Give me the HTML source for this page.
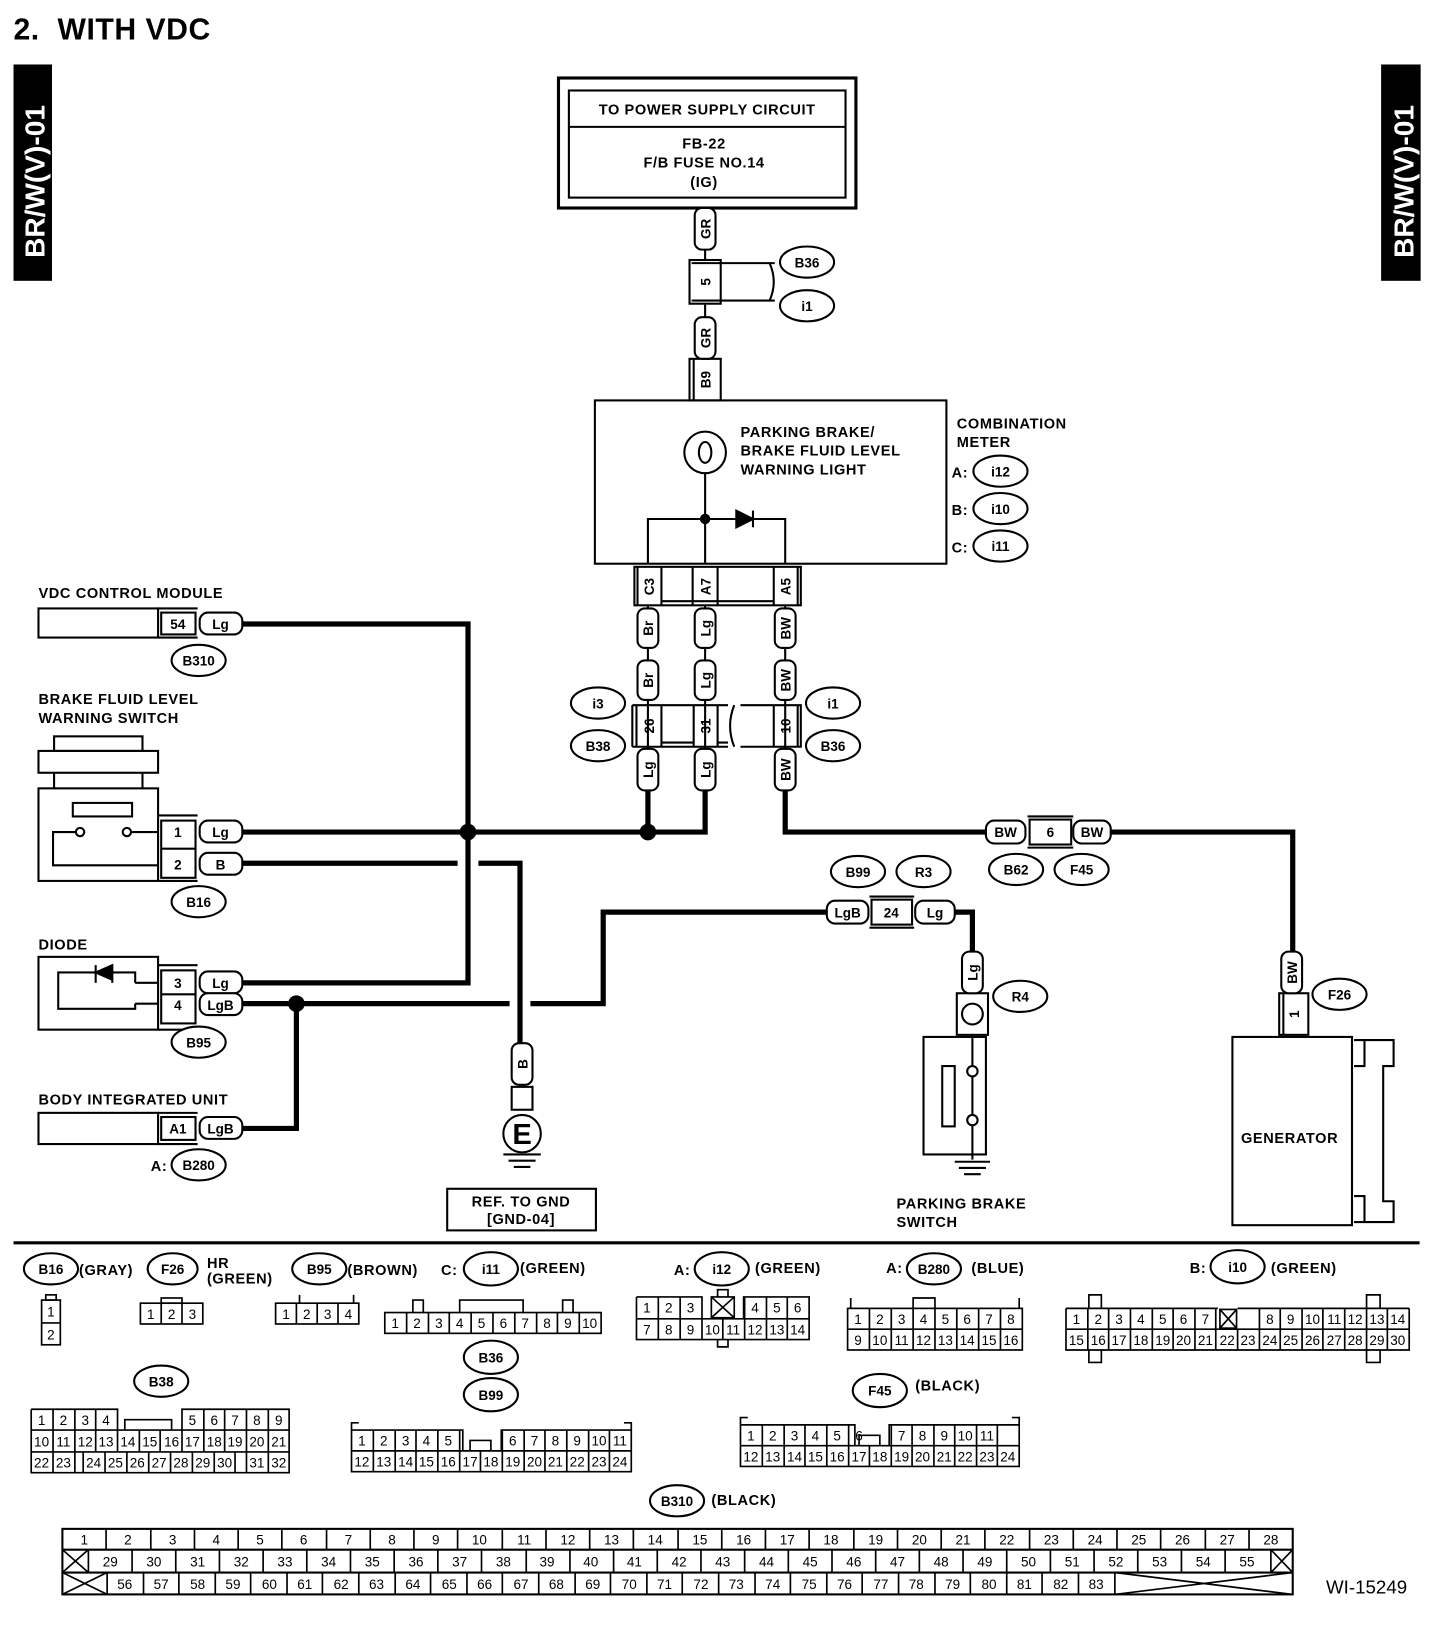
<!DOCTYPE html>
<html><head><meta charset="utf-8"><style>
html,body{margin:0;padding:0;background:#fff;}
svg{display:block;}
text{font-family:"Liberation Sans",sans-serif;fill:#000;}
.b{font-weight:bold;font-size:14px;letter-spacing:0.6px;}
.s{font-weight:bold;font-size:13px;}
.n{font-size:13px;}
</style></head><body>
<svg width="1456" height="1636" viewBox="0 0 1400 1573" preserveAspectRatio="none" xmlns="http://www.w3.org/2000/svg">
<rect width="1400" height="1573" fill="#fff"/>
<text x="13" y="38" style="font-weight:bold;font-size:29px;letter-spacing:0.5px" xml:space="preserve">2.  WITH VDC</text>
<rect x="13" y="62" width="37" height="208" fill="#000"/>
<text transform="translate(43,248) rotate(-90)" style="font-weight:bold;font-size:27px;fill:#fff">BR/W(V)-01</text>
<rect x="1328" y="62" width="38" height="208" fill="#000"/>
<text transform="translate(1359,248) rotate(-90)" style="font-weight:bold;font-size:27px;fill:#fff">BR/W(V)-01</text>

<g fill="none" stroke="#000" stroke-width="2">
<rect x="537" y="75" width="286" height="125" stroke-width="3"/>
<rect x="547" y="87" width="266" height="103"/>
<line x1="547" y1="122" x2="813" y2="122"/>
<line x1="678" y1="200" x2="678" y2="345"/>
<rect x="663" y="250" width="30" height="42" fill="#fff"/>
<path d="M665 253 H745 M665 289 H745 M740 253 q8 18 0 36"/>
<rect x="663" y="345" width="30" height="40" fill="#fff"/>
<line x1="667" y1="345" x2="667" y2="385"/>
<rect x="572" y="385" width="338" height="157"/>
<circle cx="678" cy="435" r="20"/>
<ellipse cx="678" cy="435" rx="6" ry="10"/>
<path d="M678 455 V499 M623 542 V499 H755 V542 M678 499 V542"/>
<path d="M708 491 V507 L724 499 Z M724 491 V507" fill="#000"/>
<rect x="610" y="545" width="160" height="37"/>
<line x1="613" y1="545" x2="613" y2="582"/>
<line x1="636" y1="545" x2="636" y2="582"/>
<line x1="666" y1="545" x2="666" y2="582"/><line x1="690" y1="545" x2="690" y2="582"/>
<line x1="744" y1="545" x2="744" y2="582"/><line x1="767" y1="545" x2="767" y2="582"/>
<line x1="636" y1="578" x2="744" y2="578"/>
<path d="M623 582 V760 M678 582 V760 M755 582 V760"/>
<path d="M608 678 H700 M608 718 H700 M608 678 V718 M612 678 V718 M636 678 V718 M667 678 V718 M690 678 V718 M636 714 H667 M690 714 H700"/>
<path d="M712 678 H770 V718 H712 M744 678 V718 M767 678 V718 M706 678 q-8 20 0 40"/>
<rect x="37" y="585" width="115" height="28"/>
<path d="M152 585 H190 M152 613 H190"/>
<rect x="155" y="589" width="33" height="21"/>
<rect x="52" y="708" width="85" height="14"/>
<rect x="37" y="722" width="115" height="21"/>
<path d="M52 743 V758 M137 743 V758"/>
<rect x="37" y="758" width="115" height="89"/>
<rect x="70" y="772" width="57" height="13"/>
<circle cx="77" cy="800" r="4"/><circle cx="122" cy="800" r="4"/>
<path d="M73 800 H51 V832 H152 M126 800 H152"/>
<path d="M152 784 H190 M152 847 H190"/>
<rect x="155" y="789" width="33" height="55"/>
<line x1="155" y1="816" x2="188" y2="816"/>
<rect x="37" y="920" width="115" height="70"/>
<path d="M152 928 H190 M152 990 H190"/>
<rect x="155" y="933" width="33" height="51"/>
<line x1="155" y1="956" x2="188" y2="956"/>
<path d="M130 945 H152 M130 965 H152 M130 945 V935 H56 V970 H130 V965"/>
<path d="M92 928 V945 M108 928 V945 M92 935 L108 928 V942 Z" fill="#000"/>
<rect x="37" y="1070" width="115" height="30"/>
<path d="M152 1070 H190 M152 1100 H190"/>
<rect x="155" y="1074" width="33" height="22"/>
<rect x="492" y="1045" width="20" height="22"/>
<circle cx="502" cy="1090" r="18"/>
<path d="M484 1110 H520 M489 1116 H515 M494 1122 H510" stroke-width="2"/>
<rect x="430" y="1143" width="143" height="40"/>
<rect x="920" y="955" width="30" height="40"/>
<circle cx="935" cy="975" r="10"/>
<rect x="888" y="997" width="60" height="113"/>
<rect x="906" y="1025" width="12" height="58"/>
<circle cx="935" cy="1030" r="5"/><circle cx="935" cy="1077" r="5"/>
<path d="M935 995 V1025 M935 1035 V1072 M935 1082 V1115 M918 1117 H952 M922 1123 H948 M927 1129 H943"/>
<rect x="838" y="865" width="39" height="24" fill="#fff"/>
<path d="M836 862 H879 M836 892 H879"/>
<rect x="990" y="788" width="40" height="24" fill="#fff"/>
<path d="M988 785 H1032 M988 815 H1032"/>
<rect x="1230" y="955" width="28" height="40"/>
<line x1="1234" y1="955" x2="1234" y2="995"/>
<rect x="1185" y="997" width="115" height="181"/>
<path d="M1302 1000 H1340 V1025 H1330 V1155 H1340 V1175 H1302 M1312 1000 V1025 H1302 M1312 1175 V1150 H1302"/>
<line x1="13" y1="1195" x2="1365" y2="1195" stroke-width="3"/>
</g>

<g fill="none" stroke="#000" stroke-width="5">
<path d="M233 600 H450 V945 H233"/>
<path d="M233 800 H678 V760 M623 760 V800"/>
<path d="M233 830 H440 M460 830 H500 V1003"/>
<path d="M233 965 H490 M510 965 H580 V877 H795 M918 877 H935 V915"/>
<path d="M285 965 V1085 H233"/>
<path d="M755 760 V800 H948 M1068 800 H1243 V915"/>
</g>
<circle cx="450" cy="800" r="8"/>
<circle cx="623" cy="800" r="8"/>
<circle cx="285" cy="965" r="8"/>
<circle cx="678" cy="499" r="5"/>

<g fill="#fff" stroke="#000" stroke-width="2">
<rect x="668" y="200" width="20" height="40" rx="7"/>
<rect x="668" y="305" width="20" height="40" rx="7"/>
<rect x="613" y="585" width="20" height="38" rx="7"/>
<rect x="668" y="585" width="20" height="38" rx="7"/>
<rect x="745" y="585" width="20" height="38" rx="7"/>
<rect x="613" y="635" width="20" height="38" rx="7"/>
<rect x="668" y="635" width="20" height="38" rx="7"/>
<rect x="745" y="635" width="20" height="38" rx="7"/>
<rect x="613" y="720" width="20" height="40" rx="7"/>
<rect x="668" y="720" width="20" height="40" rx="7"/>
<rect x="745" y="720" width="20" height="40" rx="7"/>
<rect x="192" y="589" width="41" height="21" rx="8"/>
<rect x="192" y="789" width="41" height="21" rx="8"/>
<rect x="192" y="820" width="41" height="21" rx="8"/>
<rect x="192" y="934" width="41" height="21" rx="8"/>
<rect x="192" y="955" width="41" height="21" rx="8"/>
<rect x="192" y="1074" width="41" height="21" rx="8"/>
<rect x="492" y="1003" width="20" height="40" rx="7"/>
<rect x="795" y="866" width="40" height="22" rx="8"/>
<rect x="880" y="866" width="38" height="22" rx="8"/>
<rect x="925" y="915" width="20" height="40" rx="7"/>
<rect x="948" y="789" width="38" height="22" rx="8"/>
<rect x="1032" y="789" width="36" height="22" rx="8"/>
<rect x="1232" y="915" width="20" height="40" rx="7"/>
</g>
<g fill="#fff" stroke="#000" stroke-width="2">
<ellipse cx="776" cy="252" rx="26" ry="15"/><ellipse cx="776" cy="294" rx="26" ry="15"/>
<ellipse cx="962" cy="453" rx="26" ry="15"/><ellipse cx="962" cy="489" rx="26" ry="15"/><ellipse cx="962" cy="525" rx="26" ry="15"/>
<ellipse cx="575" cy="676" rx="26" ry="15"/><ellipse cx="575" cy="717" rx="26" ry="15"/>
<ellipse cx="801" cy="676" rx="26" ry="15"/><ellipse cx="801" cy="717" rx="26" ry="15"/>
<ellipse cx="191" cy="635" rx="26" ry="15"/><ellipse cx="191" cy="867" rx="26" ry="15"/>
<ellipse cx="191" cy="1002" rx="26" ry="15"/><ellipse cx="191" cy="1120" rx="26" ry="15"/>
<ellipse cx="825" cy="838" rx="26" ry="15"/><ellipse cx="888" cy="838" rx="26" ry="15"/>
<ellipse cx="977" cy="836" rx="26" ry="15"/><ellipse cx="1040" cy="836" rx="26" ry="15"/>
<ellipse cx="981" cy="958" rx="26" ry="15"/><ellipse cx="1288" cy="956" rx="26" ry="15"/>
<ellipse cx="49" cy="1220" rx="26" ry="15"/><ellipse cx="166" cy="1220" rx="24" ry="15"/>
<ellipse cx="307" cy="1220" rx="26" ry="15"/><ellipse cx="472" cy="1220" rx="26" ry="16"/>
<ellipse cx="694" cy="1220" rx="26" ry="16"/><ellipse cx="898" cy="1220" rx="26" ry="15"/>
<ellipse cx="1190" cy="1218" rx="26" ry="16"/>
<ellipse cx="472" cy="1305" rx="26" ry="16"/><ellipse cx="472" cy="1341" rx="26" ry="16"/>
<ellipse cx="155" cy="1328" rx="26" ry="15"/><ellipse cx="846" cy="1337" rx="26" ry="16"/>
<ellipse cx="651" cy="1443" rx="26" ry="15"/>
</g>

<g class="b" text-anchor="middle">
<text x="680" y="110">TO POWER SUPPLY CIRCUIT</text>
<text x="677" y="143">FB-22</text>
<text x="677" y="161">F/B FUSE NO.14</text>
<text x="677" y="180">(IG)</text>
<text x="501" y="1160">REF. TO GND</text>
<text x="501" y="1177">[GND-04]</text>
<text x="1240" y="1099">GENERATOR</text>
</g>
<g class="b">
<text x="712" y="420">PARKING BRAKE/</text>
<text x="712" y="438">BRAKE FLUID LEVEL</text>
<text x="712" y="456">WARNING LIGHT</text>
<text x="920" y="412">COMBINATION</text>
<text x="920" y="430">METER</text>
<text x="915" y="459">A:</text><text x="915" y="495">B:</text><text x="915" y="531">C:</text>
<text x="37" y="575">VDC CONTROL MODULE</text>
<text x="37" y="677">BRAKE FLUID LEVEL</text>
<text x="37" y="695">WARNING SWITCH</text>
<text x="37" y="913">DIODE</text>
<text x="37" y="1062">BODY INTEGRATED UNIT</text>
<text x="145" y="1126">A:</text>
<text x="862" y="1162">PARKING BRAKE</text>
<text x="862" y="1180">SWITCH</text>
</g>
<g class="s" text-anchor="middle">
<text x="776" y="257">B36</text><text x="776" y="299">i1</text>
<text x="962" y="458">i12</text><text x="962" y="494">i10</text><text x="962" y="530">i11</text>
<text x="575" y="681">i3</text><text x="575" y="722">B38</text>
<text x="801" y="681">i1</text><text x="801" y="722">B36</text>
<text x="191" y="640">B310</text><text x="191" y="872">B16</text><text x="191" y="1007">B95</text><text x="191" y="1125">B280</text>
<text x="825" y="843">B99</text><text x="888" y="843">R3</text>
<text x="977" y="841">B62</text><text x="1040" y="841">F45</text>
<text x="981" y="963">R4</text><text x="1288" y="961">F26</text>
<text x="171" y="605">54</text><text x="212" y="605">Lg</text>
<text x="171" y="805">1</text><text x="212" y="805">Lg</text>
<text x="171" y="836">2</text><text x="212" y="836">B</text>
<text x="171" y="950">3</text><text x="212" y="950">Lg</text>
<text x="171" y="971">4</text><text x="212" y="971">LgB</text>
<text x="171" y="1090">A1</text><text x="212" y="1090">LgB</text>
<text x="815" y="882">LgB</text><text x="857" y="882">24</text><text x="899" y="882">Lg</text>
<text x="967" y="805">BW</text><text x="1010" y="805">6</text><text x="1050" y="805">BW</text>
<text x="502" y="1100" style="font-size:28px">E</text>
</g>
<g class="s" text-anchor="middle">
<text transform="translate(683,220) rotate(-90)">GR</text>
<text transform="translate(683,271) rotate(-90)">5</text>
<text transform="translate(683,325) rotate(-90)">GR</text>
<text transform="translate(683,365) rotate(-90)">B9</text>
<text transform="translate(629,564) rotate(-90)">C3</text>
<text transform="translate(683,564) rotate(-90)">A7</text>
<text transform="translate(760,564) rotate(-90)">A5</text>
<text transform="translate(628,604) rotate(-90)">Br</text>
<text transform="translate(683,604) rotate(-90)">Lg</text>
<text transform="translate(760,604) rotate(-90)">BW</text>
<text transform="translate(628,654) rotate(-90)">Br</text>
<text transform="translate(683,654) rotate(-90)">Lg</text>
<text transform="translate(760,654) rotate(-90)">BW</text>
<text transform="translate(629,698) rotate(-90)">26</text>
<text transform="translate(683,698) rotate(-90)">31</text>
<text transform="translate(760,698) rotate(-90)">10</text>
<text transform="translate(628,740) rotate(-90)">Lg</text>
<text transform="translate(683,740) rotate(-90)">Lg</text>
<text transform="translate(760,740) rotate(-90)">BW</text>
<text transform="translate(507,1023) rotate(-90)">B</text>
<text transform="translate(940,935) rotate(-90)">Lg</text>
<text transform="translate(1247,935) rotate(-90)">BW</text>
<text transform="translate(1249,975) rotate(-90)">1</text>
</g>

<g class="s" text-anchor="middle">
<text x="49" y="1225">B16</text><text x="166" y="1225">F26</text><text x="307" y="1225">B95</text>
<text x="472" y="1225">i11</text><text x="694" y="1225">i12</text><text x="898" y="1225">B280</text>
<text x="1190" y="1223">i10</text><text x="472" y="1310">B36</text><text x="472" y="1346">B99</text>
<text x="155" y="1333">B38</text><text x="846" y="1342">F45</text><text x="651" y="1448">B310</text>
</g>
<g class="b">
<text x="76" y="1226">(GRAY)</text>
<text x="199" y="1219">HR</text><text x="199" y="1234">(GREEN)</text>
<text x="334" y="1226">(BROWN)</text>
<text x="424" y="1226">C:</text><text x="500" y="1224">(GREEN)</text>
<text x="648" y="1226">A:</text><text x="726" y="1224">(GREEN)</text>
<text x="852" y="1224">A:</text><text x="934" y="1224">(BLUE)</text>
<text x="1144" y="1224">B:</text><text x="1222" y="1224">(GREEN)</text>
<text x="880" y="1337">(BLACK)</text>
<text x="684" y="1447">(BLACK)</text>
</g>
<text x="1275" y="1532" style="font-size:18px">WI-15249</text>

<g fill="none" stroke="#000" stroke-width="1.6">
<rect x="44" y="1245" width="10" height="5"/>
<rect x="40" y="1250" width="18" height="43"/><line x1="40" y1="1272" x2="58" y2="1272"/>
<rect x="155" y="1248" width="20" height="5"/>
<rect x="135" y="1253" width="60" height="20"/><path d="M155 1253V1273M175 1253V1273"/>
<rect x="265" y="1253" width="80" height="20"/><path d="M285 1253V1273M305 1253V1273M325 1253V1273M288 1253V1245M340 1253V1245"/>
<rect x="370" y="1262" width="208" height="20"/>
<path d="M391 1262V1282M412 1262V1282M432 1262V1282M453 1262V1282M474 1262V1282M495 1262V1282M516 1262V1282M536 1262V1282M557 1262V1282"/>
<path d="M397 1262V1250H407V1262M442 1262V1250H503V1262M541 1262V1250H551V1262"/>
<path d="M612 1247H675V1268M612 1247V1288H778V1247H715V1268M612 1268H778M633 1247V1288M654 1247V1288M675 1268V1288M695 1268V1288M716 1247V1288M737 1247V1288M757 1247V1288M690 1247V1240H700V1247M690 1288V1295H700V1288"/>
<rect x="684" y="1247" width="22" height="20"/><path d="M684 1247L706 1267M706 1247L684 1267"/>
<rect x="815" y="1258" width="168" height="40"/>
<path d="M815 1278H983M836 1258V1298M857 1258V1298M878 1258V1298M899 1258V1298M920 1258V1298M941 1258V1298M962 1258V1298M878 1258V1248H899V1258M818 1258V1248M980 1258V1248"/>
<path d="M1025 1258H1171M1190 1258H1355M1025 1258V1298H1355V1258M1025 1278H1355"/>
<path d="M1046 1258V1298M1066 1258V1298M1087 1258V1298M1108 1258V1298M1128 1258V1298M1149 1258V1298M1169 1258V1298M1190 1278V1298M1211 1258V1298M1231 1258V1298M1252 1258V1298M1272 1258V1298M1293 1258V1298M1314 1258V1298M1334 1258V1298"/>
<path d="M1047 1258V1245H1059V1258M1047 1298V1310H1059V1298M1314 1258V1245H1327V1258M1314 1298V1310H1327V1298"/>
<rect x="1173" y="1259" width="16" height="18"/><path d="M1173 1259L1189 1277M1189 1259L1173 1277"/>
<!-- B38 -->
<path d="M30 1355H113V1375M30 1355V1416H278V1355H175V1375M30 1375H278M30 1396H278"/>
<path d="M51 1355V1396M72 1355V1396M92 1355V1396M113 1375V1396M134 1375V1396M154 1375V1396M175 1375V1396M196 1355V1396M216 1355V1396M237 1355V1396M258 1355V1396"/>
<path d="M51 1396V1416M72 1396V1416M80 1396V1416M101 1396V1416M122 1396V1416M143 1396V1416M164 1396V1416M185 1396V1416M206 1396V1416M226 1396V1416M237 1396V1416M258 1396V1416"/>
<path d="M120 1375V1365H165V1375"/>
<path d="M338 1375H445V1395M338 1375V1415H607V1375H482V1395M338 1395H607"/>
<path d="M359 1375V1415M380 1375V1415M400 1375V1415M421 1375V1415M442 1375V1415M462 1395V1415M483 1375V1415M504 1375V1415M524 1375V1415M545 1375V1415M566 1375V1415M586 1375V1415M452 1395V1385H472V1395M338 1375V1368H345M607 1375V1368H600"/>
<path d="M712 1370H822V1390M712 1370V1410H980V1370H855V1390M712 1390H980"/>
<path d="M733 1370V1410M754 1370V1410M774 1370V1410M795 1370V1410M816 1370V1410M836 1390V1410M857 1370V1410M877 1370V1410M898 1370V1410M918 1370V1410M939 1370V1410M959 1370V1410M826 1390V1380H846V1390M712 1370V1363H719M980 1370V1363H973"/>
<rect x="60" y="1470" width="1183" height="63" stroke-width="2"/>
<path d="M60 1490H1243M60 1512H1243" stroke-width="2"/>
<path d="M102 1470V1490M145 1470V1490M187 1470V1490M229 1470V1490M271 1470V1490M314 1470V1490M356 1470V1490M398 1470V1490M440 1470V1490M483 1470V1490M525 1470V1490M567 1470V1490M609 1470V1490M652 1470V1490M694 1470V1490M736 1470V1490M778 1470V1490M821 1470V1490M863 1470V1490M905 1470V1490M947 1470V1490M990 1470V1490M1032 1470V1490M1074 1470V1490M1116 1470V1490M1159 1470V1490M1201 1470V1490"/>
<path d="M85 1490V1512M127 1490V1512M169 1490V1512M211 1490V1512M253 1490V1512M295 1490V1512M337 1490V1512M379 1490V1512M421 1490V1512M463 1490V1512M506 1490V1512M548 1490V1512M590 1490V1512M632 1490V1512M674 1490V1512M716 1490V1512M758 1490V1512M800 1490V1512M842 1490V1512M884 1490V1512M926 1490V1512M968 1490V1512M1010 1490V1512M1052 1490V1512M1094 1490V1512M1136 1490V1512M1178 1490V1512M1222 1490V1512"/>
<path d="M60 1490L85 1512M85 1490L60 1512M1222 1490L1243 1512M1243 1490L1222 1512"/>
<path d="M103 1512V1533M138 1512V1533M172 1512V1533M207 1512V1533M241 1512V1533M276 1512V1533M310 1512V1533M345 1512V1533M380 1512V1533M414 1512V1533M449 1512V1533M483 1512V1533M518 1512V1533M553 1512V1533M587 1512V1533M622 1512V1533M656 1512V1533M691 1512V1533M726 1512V1533M760 1512V1533M795 1512V1533M829 1512V1533M864 1512V1533M899 1512V1533M933 1512V1533M968 1512V1533M1002 1512V1533M1037 1512V1533M1072 1512V1533"/>
<path d="M60 1512L103 1533M103 1512L60 1533M1072 1512L1243 1533M1243 1512L1072 1533"/>
</g>
<g class="n" text-anchor="middle">
<text x="49" y="1266">1</text><text x="49" y="1288">2</text>
<text x="145" y="1268">1</text><text x="165" y="1268">2</text><text x="185" y="1268">3</text>
<text x="275" y="1268">1</text><text x="295" y="1268">2</text><text x="315" y="1268">3</text><text x="335" y="1268">4</text>
<text x="380" y="1277">1</text><text x="401" y="1277">2</text><text x="422" y="1277">3</text><text x="442" y="1277">4</text><text x="463" y="1277">5</text><text x="484" y="1277">6</text><text x="505" y="1277">7</text><text x="526" y="1277">8</text><text x="546" y="1277">9</text><text x="567" y="1277">10</text>
<text x="622" y="1262">1</text><text x="643" y="1262">2</text><text x="664" y="1262">3</text><text x="726" y="1262">4</text><text x="747" y="1262">5</text><text x="767" y="1262">6</text>
<text x="622" y="1283">7</text><text x="643" y="1283">8</text><text x="664" y="1283">9</text><text x="685" y="1283">10</text><text x="705" y="1283">11</text><text x="726" y="1283">12</text><text x="747" y="1283">13</text><text x="767" y="1283">14</text>
<text x="825" y="1273">1</text><text x="846" y="1273">2</text><text x="867" y="1273">3</text><text x="888" y="1273">4</text><text x="909" y="1273">5</text><text x="930" y="1273">6</text><text x="951" y="1273">7</text><text x="972" y="1273">8</text>
<text x="825" y="1293">9</text><text x="846" y="1293">10</text><text x="867" y="1293">11</text><text x="888" y="1293">12</text><text x="909" y="1293">13</text><text x="930" y="1293">14</text><text x="951" y="1293">15</text><text x="972" y="1293">16</text>
<text x="1035" y="1273">1</text><text x="1056" y="1273">2</text><text x="1076" y="1273">3</text><text x="1097" y="1273">4</text><text x="1118" y="1273">5</text><text x="1138" y="1273">6</text><text x="1159" y="1273">7</text><text x="1221" y="1273">8</text><text x="1241" y="1273">9</text><text x="1262" y="1273">10</text><text x="1283" y="1273">11</text><text x="1303" y="1273">12</text><text x="1324" y="1273">13</text><text x="1344" y="1273">14</text>
<text x="1035" y="1293">15</text><text x="1056" y="1293">16</text><text x="1076" y="1293">17</text><text x="1097" y="1293">18</text><text x="1118" y="1293">19</text><text x="1138" y="1293">20</text><text x="1159" y="1293">21</text><text x="1180" y="1293">22</text><text x="1200" y="1293">23</text><text x="1221" y="1293">24</text><text x="1241" y="1293">25</text><text x="1262" y="1293">26</text><text x="1283" y="1293">27</text><text x="1303" y="1293">28</text><text x="1324" y="1293">29</text><text x="1344" y="1293">30</text>
<text x="40" y="1370">1</text><text x="61" y="1370">2</text><text x="82" y="1370">3</text><text x="102" y="1370">4</text><text x="185" y="1370">5</text><text x="206" y="1370">6</text><text x="226" y="1370">7</text><text x="247" y="1370">8</text><text x="268" y="1370">9</text>
<text x="40" y="1391">10</text><text x="61" y="1391">11</text><text x="82" y="1391">12</text><text x="102" y="1391">13</text><text x="123" y="1391">14</text><text x="144" y="1391">15</text><text x="165" y="1391">16</text><text x="185" y="1391">17</text><text x="206" y="1391">18</text><text x="226" y="1391">19</text><text x="247" y="1391">20</text><text x="268" y="1391">21</text>
<text x="40" y="1411">22</text><text x="61" y="1411">23</text><text x="90" y="1411">24</text><text x="111" y="1411">25</text><text x="132" y="1411">26</text><text x="153" y="1411">27</text><text x="174" y="1411">28</text><text x="195" y="1411">29</text><text x="216" y="1411">30</text><text x="247" y="1411">31</text><text x="268" y="1411">32</text>
<text x="348" y="1390">1</text><text x="369" y="1390">2</text><text x="390" y="1390">3</text><text x="410" y="1390">4</text><text x="431" y="1390">5</text><text x="493" y="1390">6</text><text x="514" y="1390">7</text><text x="534" y="1390">8</text><text x="555" y="1390">9</text><text x="576" y="1390">10</text><text x="596" y="1390">11</text>
<text x="348" y="1410">12</text><text x="369" y="1410">13</text><text x="390" y="1410">14</text><text x="410" y="1410">15</text><text x="431" y="1410">16</text><text x="452" y="1410">17</text><text x="472" y="1410">18</text><text x="493" y="1410">19</text><text x="514" y="1410">20</text><text x="534" y="1410">21</text><text x="555" y="1410">22</text><text x="576" y="1410">23</text><text x="596" y="1410">24</text>
<text x="722" y="1385">1</text><text x="743" y="1385">2</text><text x="764" y="1385">3</text><text x="784" y="1385">4</text><text x="805" y="1385">5</text><text x="826" y="1385">6</text><text x="867" y="1385">7</text><text x="887" y="1385">8</text><text x="908" y="1385">9</text><text x="928" y="1385">10</text><text x="949" y="1385">11</text>
<text x="722" y="1405">12</text><text x="743" y="1405">13</text><text x="764" y="1405">14</text><text x="784" y="1405">15</text><text x="805" y="1405">16</text><text x="826" y="1405">17</text><text x="846" y="1405">18</text><text x="867" y="1405">19</text><text x="887" y="1405">20</text><text x="908" y="1405">21</text><text x="928" y="1405">22</text><text x="949" y="1405">23</text><text x="969" y="1405">24</text>
<text x="81" y="1485">1</text><text x="123" y="1485">2</text><text x="166" y="1485">3</text><text x="208" y="1485">4</text><text x="250" y="1485">5</text><text x="292" y="1485">6</text><text x="335" y="1485">7</text><text x="377" y="1485">8</text><text x="419" y="1485">9</text><text x="461" y="1485">10</text><text x="504" y="1485">11</text><text x="546" y="1485">12</text><text x="588" y="1485">13</text><text x="630" y="1485">14</text><text x="673" y="1485">15</text><text x="715" y="1485">16</text><text x="757" y="1485">17</text><text x="799" y="1485">18</text><text x="842" y="1485">19</text><text x="884" y="1485">20</text><text x="926" y="1485">21</text><text x="968" y="1485">22</text><text x="1011" y="1485">23</text><text x="1053" y="1485">24</text><text x="1095" y="1485">25</text><text x="1137" y="1485">26</text><text x="1180" y="1485">27</text><text x="1222" y="1485">28</text>
<text x="106" y="1506">29</text><text x="148" y="1506">30</text><text x="190" y="1506">31</text><text x="232" y="1506">32</text><text x="274" y="1506">33</text><text x="316" y="1506">34</text><text x="358" y="1506">35</text><text x="400" y="1506">36</text><text x="442" y="1506">37</text><text x="484" y="1506">38</text><text x="526" y="1506">39</text><text x="568" y="1506">40</text><text x="610" y="1506">41</text><text x="653" y="1506">42</text><text x="695" y="1506">43</text><text x="737" y="1506">44</text><text x="779" y="1506">45</text><text x="821" y="1506">46</text><text x="863" y="1506">47</text><text x="905" y="1506">48</text><text x="947" y="1506">49</text><text x="989" y="1506">50</text><text x="1031" y="1506">51</text><text x="1073" y="1506">52</text><text x="1115" y="1506">53</text><text x="1157" y="1506">54</text><text x="1199" y="1506">55</text>
<text x="120" y="1528">56</text><text x="155" y="1528">57</text><text x="190" y="1528">58</text><text x="224" y="1528">59</text><text x="259" y="1528">60</text><text x="293" y="1528">61</text><text x="328" y="1528">62</text><text x="362" y="1528">63</text><text x="397" y="1528">64</text><text x="432" y="1528">65</text><text x="466" y="1528">66</text><text x="501" y="1528">67</text><text x="535" y="1528">68</text><text x="570" y="1528">69</text><text x="605" y="1528">70</text><text x="639" y="1528">71</text><text x="674" y="1528">72</text><text x="708" y="1528">73</text><text x="743" y="1528">74</text><text x="778" y="1528">75</text><text x="812" y="1528">76</text><text x="847" y="1528">77</text><text x="881" y="1528">78</text><text x="916" y="1528">79</text><text x="951" y="1528">80</text><text x="985" y="1528">81</text><text x="1020" y="1528">82</text><text x="1054" y="1528">83</text>
</g>
</svg>
</body></html>
